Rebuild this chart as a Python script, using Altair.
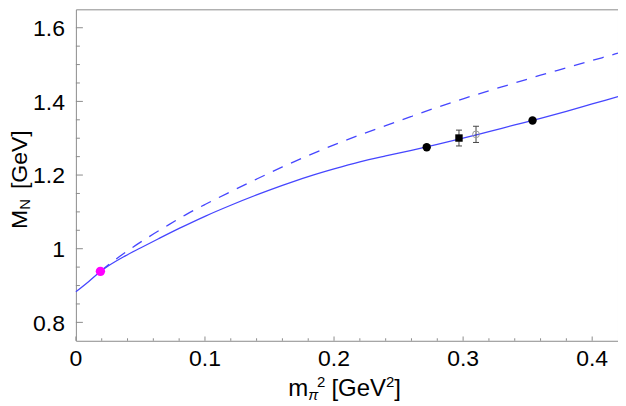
import altair as alt
import pandas as pd

# ---- data ----
solid_x = [0.000, 0.010, 0.019, 0.025, 0.038, 0.050, 0.064, 0.080, 0.100, 0.120,
           0.140, 0.160, 0.180, 0.200, 0.220, 0.240, 0.260, 0.280, 0.300, 0.320,
           0.340, 0.360, 0.380, 0.400, 0.420]
solid_y = [0.883, 0.911, 0.938, 0.953, 0.980, 1.002, 1.027, 1.055, 1.088, 1.118,
           1.146, 1.172, 1.196, 1.217, 1.236, 1.252, 1.267, 1.283, 1.300, 1.318,
           1.336, 1.354, 1.373, 1.393, 1.413]

dash_x = [0.019, 0.030, 0.042, 0.056, 0.070, 0.085, 0.100, 0.120, 0.140, 0.160,
          0.180, 0.200, 0.220, 0.240, 0.260, 0.280, 0.300, 0.320, 0.340, 0.360,
          0.380, 0.400, 0.420]
dash_y = [0.939, 0.969, 0.999, 1.031, 1.061, 1.092, 1.120, 1.155, 1.189, 1.222,
          1.253, 1.282, 1.309, 1.334, 1.359, 1.384, 1.407, 1.429, 1.450, 1.471,
          1.491, 1.511, 1.531]

lat_x = [0.2718, 0.3538]
lat_y = [1.2756, 1.348]
sq_x = [0.2968]
sq_y = [1.3005]
sq_err = [0.0215]
open_x = [0.310]
open_y = [1.3105]
open_err = [0.022]
phys_x = [0.019]
phys_y = [0.9385]

x_major = [0.0, 0.1, 0.2, 0.3, 0.4]
x_labels = ["0", "0.1", "0.2", "0.3", "0.4"]
x_minor = [0.02, 0.04, 0.06, 0.08, 0.12, 0.14, 0.16, 0.18, 0.22, 0.24, 0.26, 0.28,
           0.32, 0.34, 0.36, 0.38]
y_major = [0.8, 1.0, 1.2, 1.4, 1.6]
y_labels = ["0.8", "1", "1.2", "1.4", "1.6"]
y_minor = [0.85, 0.9, 0.95, 1.05, 1.1, 1.15, 1.25, 1.3, 1.35, 1.45, 1.5, 1.55]

x_domain = [0.0, 0.42]
y_domain = [0.75, 1.65]

# ---- styling ----
W, H = 543, 332
FRAME = "#8c8c8c"
BLUE = "#4646ff"
FONT = "Liberation Sans"

xs = alt.Scale(domain=x_domain, nice=False, zero=False)
ys = alt.Scale(domain=y_domain, nice=False, zero=False)

def X(f):
    return alt.X(f, scale=xs, axis=None)

def Y(f):
    return alt.Y(f, scale=ys, axis=None)

solid = alt.Chart(pd.DataFrame({"x": solid_x, "y": solid_y})).mark_line(
    color=BLUE, strokeWidth=1.3, interpolate="monotone").encode(x=X("x:Q"), y=Y("y:Q"))
dashed = alt.Chart(pd.DataFrame({"x": dash_x, "y": dash_y})).mark_line(
    color=BLUE, strokeWidth=1.3, strokeDash=[11, 9], interpolate="monotone").encode(
    x=X("x:Q"), y=Y("y:Q"))

# tick marks (inward)
def xticks(vals, length):
    return alt.Chart(pd.DataFrame({"v": vals})).mark_rule(color=FRAME, strokeWidth=1).encode(
        x=X("v:Q"), y=alt.value(H), y2=alt.value(H - length))

def yticks(vals, length):
    return alt.Chart(pd.DataFrame({"v": vals})).mark_rule(color=FRAME, strokeWidth=1).encode(
        y=Y("v:Q"), x=alt.value(0), x2=alt.value(length))

# tick labels
xlab = alt.Chart(pd.DataFrame({"v": x_major, "t": x_labels})).mark_text(
    align="center", baseline="alphabetic", fontSize=23, font=FONT, color="black").encode(
    x=X("v:Q"), y=alt.value(357.7), text="t:N")
ylab = alt.Chart(pd.DataFrame({"v": y_major, "t": y_labels})).mark_text(
    align="right", baseline="alphabetic", dy=8.2, fontSize=23, font=FONT, color="black").encode(
    y=Y("v:Q"), x=alt.value(-11), text="t:N")

# error bars
err_df = pd.DataFrame({
    "x": sq_x + open_x,
    "lo": [sq_y[0] - sq_err[0], open_y[0] - open_err[0]],
    "hi": [sq_y[0] + sq_err[0], open_y[0] + open_err[0]],
})
ERR = "#444444"
err_rule = alt.Chart(err_df).mark_rule(color=ERR, strokeWidth=1).encode(
    x=X("x:Q"), y=Y("lo:Q"), y2="hi:Q")
cap_lo = alt.Chart(err_df).mark_point(shape="M-1,0L1,0", size=36, filled=False,
                                       stroke=ERR, strokeWidth=1, opacity=1).encode(
    x=X("x:Q"), y=Y("lo:Q"))
cap_hi = alt.Chart(err_df).mark_point(shape="M-1,0L1,0", size=36, filled=False,
                                       stroke=ERR, strokeWidth=1, opacity=1).encode(
    x=X("x:Q"), y=Y("hi:Q"))

open_pt = alt.Chart(pd.DataFrame({"x": open_x, "y": open_y})).mark_point(
    shape="circle", size=46, filled=False, stroke="#999999", strokeWidth=1, opacity=1).encode(
    x=X("x:Q"), y=Y("y:Q"))
sq_pt = alt.Chart(pd.DataFrame({"x": sq_x, "y": sq_y})).mark_point(
    shape="square", size=55, filled=True, color="black", opacity=1).encode(
    x=X("x:Q"), y=Y("y:Q"))
lat_pt = alt.Chart(pd.DataFrame({"x": lat_x, "y": lat_y})).mark_point(
    shape="circle", size=70, filled=True, color="black", opacity=1).encode(
    x=X("x:Q"), y=Y("y:Q"))
phys_pt = alt.Chart(pd.DataFrame({"x": phys_x, "y": phys_y})).mark_point(
    shape="circle", size=88, filled=True, color="#ff00ff", opacity=1).encode(
    x=X("x:Q"), y=Y("y:Q"))

# axis titles built from pieces (sub/superscripts)
def txt(s, x, y, size, angle=0, italic=False):
    kw = dict(align="left", baseline="alphabetic", fontSize=size, font=FONT, color="black")
    if angle:
        kw["angle"] = angle
    if italic:
        kw["fontStyle"] = "italic"
    return alt.Chart(pd.DataFrame({"t": [s]})).mark_text(**kw).encode(
        x=alt.value(x), y=alt.value(y), text="t:N")

x_title = [
    txt("m", 212.8, 387, 24),
    txt("π", 232.8, 391.5, 15, italic=True),
    txt("2", 241.5, 378.5, 15),
    txt("[GeV", 256, 387, 24),
    txt("2", 310.7, 378.5, 15),
    txt("]", 319, 387, 24),
]
y_title = [
    txt("M", -48.5, 220, 23, angle=270),
    txt("N", -45.5, 200.8, 15, angle=270),
    txt("[GeV]", -48.5, 180, 23, angle=270),
]

chart = alt.layer(
    solid, dashed,
    xticks(x_major, 4.3), xticks(x_minor, 2.5),
    yticks(y_major, 7), yticks(y_minor, 4),
    err_rule, cap_lo, cap_hi, open_pt, sq_pt, lat_pt, phys_pt,
    xlab, ylab,
    *x_title, *y_title,
).properties(
    width=W, height=H,
    autosize=alt.AutoSizeParams(type="none"),
    padding={"left": 68, "top": 1, "right": 0, "bottom": 61},
).configure_view(stroke=FRAME, strokeWidth=1)

chart.save("out.html", embed_options={"renderer": "svg", "actions": False})
